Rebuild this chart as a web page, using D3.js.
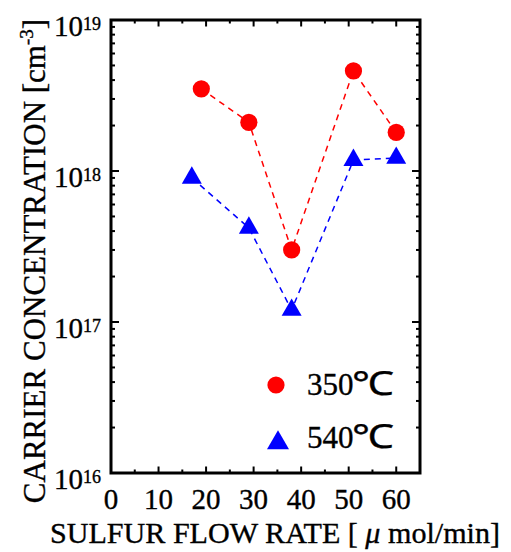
<!DOCTYPE html>
<html>
<head>
<meta charset="utf-8">
<script src="https://cdn.jsdelivr.net/npm/d3@7"></script>
<style>
  html, body { margin: 0; padding: 0; background: #fff; }
  svg { display: block; }
  text { font-family: "Liberation Serif", "Times New Roman", serif; fill: #000; stroke: #000; stroke-width: 0.35px; }
</style>
</head>
<body>
<svg id="chart" width="511" height="552"></svg>
<script>
// Sulfur flow rate (µmol/min) and carrier concentration (cm^-3) for two growth temperatures
const flow350 = [19, 29, 38, 51, 60];
const conc350 = [3.5e18, 2.1e18, 3.0e17, 4.6e18, 1.8e18];
const flow540 = [17, 29, 38, 51, 60];
const conc540 = [9.0e17, 4.2e17, 1.2e17, 1.18e18, 1.22e18];

const xTicks = [0, 10, 20, 30, 40, 50, 60];
const yDecades = [16, 17, 18, 19];
const seriesLabels = ["350", "540"];

const svg = d3.select("#chart");
const L = 111, R = 420, T = 20, B = 473;

const x = d3.scaleLinear().domain([0, 65]).range([L, R]);
const y = d3.scaleLog().domain([1e16, 1e19]).range([B, T]);

const RED = "#ff0000", BLUE = "#0000ff";

// dashed connecting lines
const line = (xs, ys) => d3.line().x((d, i) => x(xs[i])).y((d, i) => y(ys[i]))(ys);

svg.append("path").attr("d", line(flow350, conc350))
  .attr("fill", "none").attr("stroke", RED).attr("stroke-width", 1.5)
  .attr("stroke-dasharray", "6,5");
svg.append("path").attr("d", line(flow540, conc540))
  .attr("fill", "none").attr("stroke", BLUE).attr("stroke-width", 1.5)
  .attr("stroke-dasharray", "6,5");

// markers
svg.selectAll("circle.p350").data(conc350).enter().append("circle")
  .attr("cx", (d, i) => x(flow350[i])).attr("cy", d => y(d))
  .attr("r", 8.6).attr("fill", RED);

const tri = d3.symbol().type(d3.symbolTriangle).size(173);
svg.selectAll("path.p540").data(conc540).enter().append("path")
  .attr("d", tri)
  .attr("transform", (d, i) => `translate(${x(flow540[i])},${y(d)})`)
  .attr("fill", BLUE);

// frame
svg.append("rect").attr("x", L).attr("y", T).attr("width", R - L).attr("height", B - T)
  .attr("fill", "none").attr("stroke", "#000").attr("stroke-width", 3);

// x ticks (bottom and top, inward)
const xMinor = d3.range(0, 66, 5);
xMinor.forEach(v => {
  const major = v % 10 === 0;
  const len = major ? 6.5 : 3.5;
  svg.append("line").attr("x1", x(v)).attr("x2", x(v)).attr("y1", B).attr("y2", B - len)
    .attr("stroke", "#000").attr("stroke-width", 2);
  svg.append("line").attr("x1", x(v)).attr("x2", x(v)).attr("y1", T).attr("y2", T + len)
    .attr("stroke", "#000").attr("stroke-width", 2);
});

// y ticks (log, left and right, inward)
yDecades.forEach((e, k) => {
  const base = Math.pow(10, e);
  const mults = k < yDecades.length - 1 ? d3.range(1, 10) : [1];
  mults.forEach(m => {
    const v = m * base;
    const major = m === 1;
    const len = major ? 8 : 4;
    svg.append("line").attr("x1", L).attr("x2", L + len).attr("y1", y(v)).attr("y2", y(v))
      .attr("stroke", "#000").attr("stroke-width", 2);
    svg.append("line").attr("x1", R).attr("x2", R - len).attr("y1", y(v)).attr("y2", y(v))
      .attr("stroke", "#000").attr("stroke-width", 2);
  });
});

// x tick labels
svg.selectAll("text.xt").data(xTicks).enter().append("text")
  .attr("x", d => x(d)).attr("y", 509)
  .attr("text-anchor", "middle").attr("font-size", 29)
  .text(d => d);

// y tick labels 10^n
yDecades.forEach(e => {
  const t = svg.append("text").attr("x", 101).attr("y", y(Math.pow(10, e)) + 16)
    .attr("text-anchor", "end").attr("font-size", 29);
  t.append("tspan").text("10");
  t.append("tspan").attr("font-size", 18).attr("dy", -6).text(e);
});

// axis titles
const xt = svg.append("text").attr("x", 275).attr("y", 543)
  .attr("text-anchor", "middle").attr("font-size", 30)
  .attr("textLength", 450).attr("lengthAdjust", "spacingAndGlyphs");
xt.append("tspan").text("SULFUR FLOW RATE [ ");
xt.append("tspan").attr("font-style", "italic").text("μ");
xt.append("tspan").text(" mol/min]");

const yt = svg.append("text").attr("transform", "translate(45,261) rotate(-90)")
  .attr("text-anchor", "middle").attr("font-size", 31);
yt.append("tspan").text("CARRIER CONCENTRATION [cm");
yt.append("tspan").attr("font-size", 19).attr("dy", -12).text("-3");
yt.append("tspan").attr("dy", 12).text("]");

// legend
svg.append("circle").attr("cx", 276).attr("cy", 385).attr("r", 8.6).attr("fill", RED);
svg.append("path").attr("d", d3.symbol().type(d3.symbolTriangle).size(210))
  .attr("transform", "translate(278,443)").attr("fill", BLUE);

[[395, seriesLabels[0]], [448, seriesLabels[1]]].forEach(([yy, lab]) => {
  svg.append("text").attr("x", 307).attr("y", yy).attr("font-size", 31).text(lab);
  svg.append("text").attr("x", 352).attr("y", yy).attr("font-size", 33)
    .attr("textLength", 42).attr("lengthAdjust", "spacingAndGlyphs")
    .text("℃");
});
</script>
</body>
</html>
